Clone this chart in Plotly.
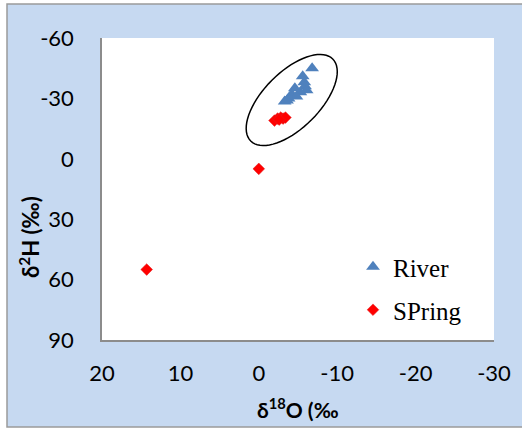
import numpy as np
import plotly.graph_objects as go

# ---- data ----
river_d18O = [-6.8, -5.6, -5.8, -5.9, -6.1, -5.3, -4.6, -4.2, -4.8, -3.8, -3.3, -3.6]
river_d2H = [-45, -41, -38, -36, -34, -33, -35, -32, -31, -30, -28.5, -29]

spring_d18O = [14.3, 0.0, -2.0, -2.4, -2.8, -3.1, -3.4, -2.6]
spring_d2H = [55, 5, -19, -20, -20.5, -20, -20.5, -19.5]

x_ticks = [20, 10, 0, -10, -20, -30]
y_ticks = [-60, -30, 0, 30, 60, 90]

# ---- layout constants ----
W, H = 522, 428
ML, MR, MT, MB = 102, 28, 38, 88
PW, PH = W - ML - MR, H - MT - MB


def px_to_paper(px, py):
    return (px - ML) / PW, (H - MB - py) / PH


fig = go.Figure()
fig.add_trace(go.Scatter(
    x=river_d18O, y=river_d2H, mode="markers", name="River",
    marker=dict(symbol="triangle-up", size=12, color="#4F81BD"),
    legend="legend", showlegend=True,
))
fig.add_trace(go.Scatter(
    x=spring_d18O, y=spring_d2H, mode="markers", name="SPring",
    marker=dict(symbol="diamond", size=9, color="#FF0000",
                line=dict(color="#E02020", width=0.5)),
    legend="legend2", showlegend=True,
))

# ellipse around cluster (pixel-sized path anchored at data point)
a, b, th = 58, 28, np.deg2rad(45)
t = np.linspace(0, 2 * np.pi, 73)
ex = a * np.cos(th) * np.cos(t) - b * np.sin(th) * np.sin(t)
ey = a * np.sin(th) * np.cos(t) + b * np.cos(th) * np.sin(t)
path = "M " + " L ".join(f"{u:.2f},{v:.2f}" for u, v in zip(ex, ey)) + " Z"

shapes = []
# outer light-blue chart area with grey border
x0, y0 = px_to_paper(7, 427)
x1, y1 = px_to_paper(525, 4)
shapes.append(dict(type="rect", xref="paper", yref="paper", x0=x0, y0=y0, x1=x1, y1=y1,
                   fillcolor="#C6D9F1", line=dict(color="#9A9A9A", width=1.5), layer="below"))
shapes.append(dict(type="rect", xref="paper", yref="paper", x0=0, y0=0, x1=1, y1=1,
                   fillcolor="white", line=dict(width=0), layer="below"))
shapes.append(dict(type="path", xref="x", yref="y", xsizemode="pixel", ysizemode="pixel",
                   xanchor=-4.2, yanchor=-29.2, path=path,
                   line=dict(color="black", width=1.5)))

ytx, yty = px_to_paper(30, 237)
xtx, xty = px_to_paper(297.5, 408)
annotations = [
    dict(text="<b>δ<sup>2</sup>H (‰)</b>", xref="paper", yref="paper", x=ytx, y=yty,
         textangle=-90, showarrow=False, xanchor="center", yanchor="middle",
         font=dict(family="Lato", size=22, color="black")),
    dict(text="<b>δ<sup>18</sup>O (‰</b>", xref="paper", yref="paper", x=xtx, y=xty,
         showarrow=False, xanchor="center", yanchor="middle",
         font=dict(family="Lato", size=21, color="black")),
]

lx, l1y = px_to_paper(353, 267)
_, l2y = px_to_paper(353, 310)
legfont = dict(family="Liberation Serif", size=25, color="black")

fig.update_layout(
    width=W, height=H,
    margin=dict(l=ML, r=MR, t=MT, b=MB),
    paper_bgcolor="white", plot_bgcolor="rgba(0,0,0,0)",
    showlegend=True,
    shapes=shapes, annotations=annotations,
    legend=dict(x=lx, y=l1y, xanchor="left", yanchor="middle", font=legfont,
                bgcolor="rgba(0,0,0,0)", visible=True),
    legend2=dict(x=lx, y=l2y, xanchor="left", yanchor="middle", font=legfont,
                 bgcolor="rgba(0,0,0,0)", visible=True),
    xaxis=dict(range=[20, -30], tickvals=x_ticks, ticktext=[str(v) for v in x_ticks],
               showgrid=False, zeroline=False, showline=True, linecolor="#8C8C8C",
               linewidth=1.5, ticks="", ticklabelstandoff=13,
               tickfont=dict(family="Lato", size=22, color="black")),
    yaxis=dict(range=[90, -60], tickvals=y_ticks, ticktext=[str(v) for v in y_ticks],
               showgrid=False, zeroline=False, showline=True, linecolor="#8C8C8C",
               linewidth=1.5, ticks="", ticklabelstandoff=22,
               tickfont=dict(family="Lato", size=22, color="black")),
)

fig.write_html("out.html")
